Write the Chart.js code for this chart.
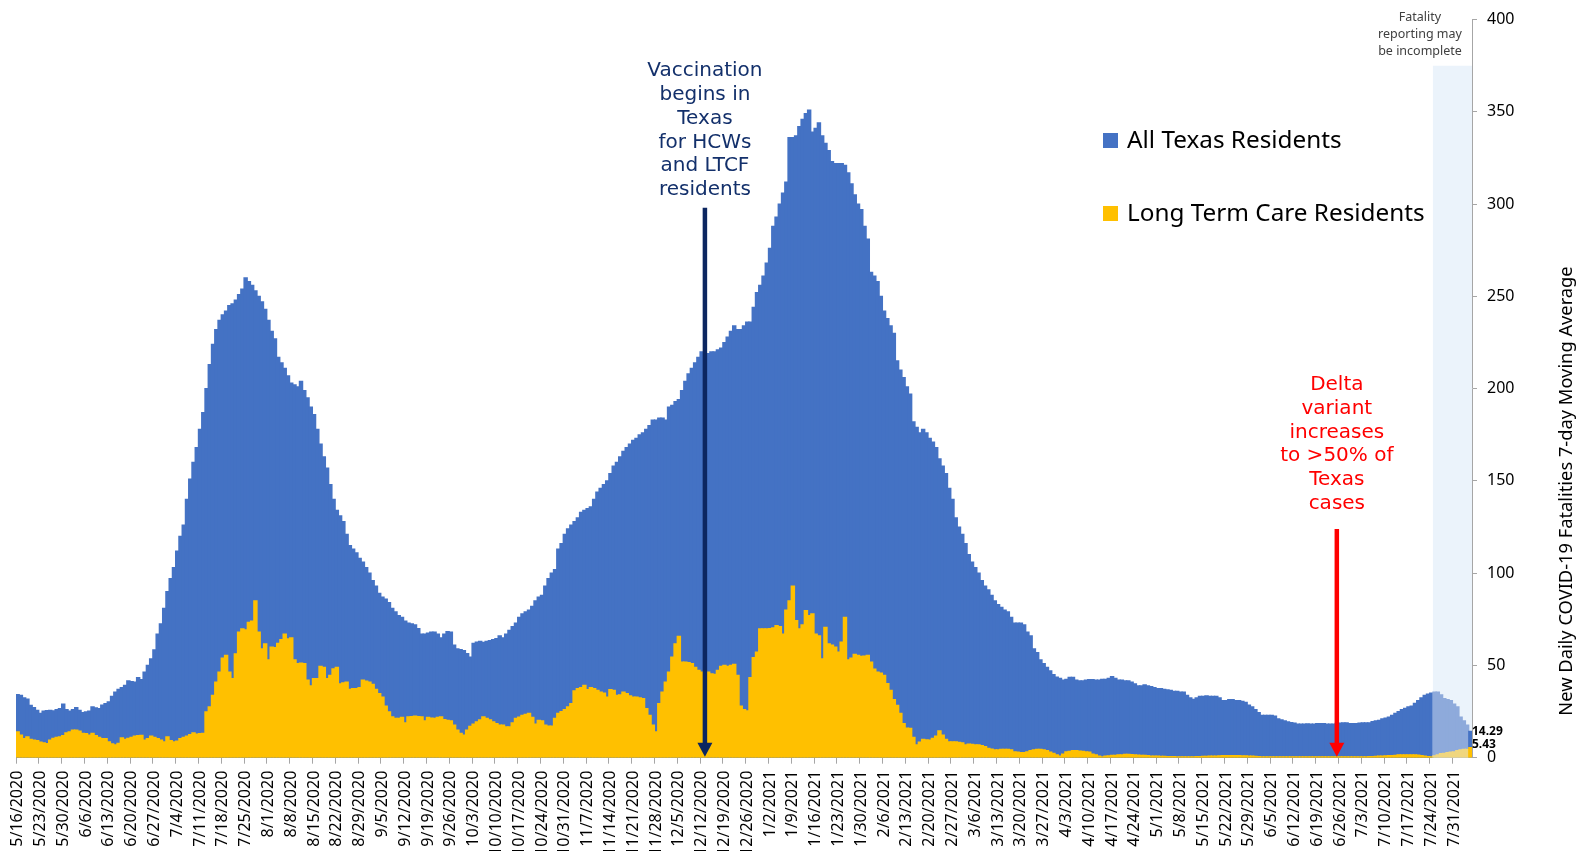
<!DOCTYPE html>
<html><head><meta charset="utf-8">
<script src="https://cdn.jsdelivr.net/npm/chart.js@4.4.1/dist/chart.umd.min.js"></script>
<style>html,body{margin:0;padding:0;background:#fff;overflow:hidden}canvas{display:block}</style>
</head><body><canvas id="c" width="1595" height="851"></canvas>
<script>
// Weekly tick labels (every 7th day)
const weeklyTicks = [
 "5/16/2020","5/23/2020","5/30/2020","6/6/2020","6/13/2020","6/20/2020","6/27/2020","7/4/2020","7/11/2020","7/18/2020","7/25/2020",
 "8/1/2020","8/8/2020","8/15/2020","8/22/2020","8/29/2020","9/5/2020","9/12/2020","9/19/2020","9/26/2020","10/3/2020","10/10/2020",
 "10/17/2020","10/24/2020","10/31/2020","11/7/2020","11/14/2020","11/21/2020","11/28/2020","12/5/2020","12/12/2020","12/19/2020","12/26/2020",
 "1/2/2021","1/9/2021","1/16/2021","1/23/2021","1/30/2021","2/6/2021","2/13/2021","2/20/2021","2/27/2021","3/6/2021","3/13/2021",
 "3/20/2021","3/27/2021","4/3/2021","4/10/2021","4/17/2021","4/24/2021","5/1/2021","5/8/2021","5/15/2021","5/22/2021","5/29/2021",
 "6/5/2021","6/12/2021","6/19/2021","6/26/2021","7/3/2021","7/10/2021","7/17/2021","7/24/2021","7/31/2021"
];

// All Texas Residents, 7-day moving average (daily, from 5/16/2020)
const allTexasPart1 = [
 34.2,33.8,32.4,31.7,28.4,27.2,25.7,24,25.2,25.5,
 25.7,25.4,26,26.6,29,26.1,25.2,26,27.2,25.7,
 24.5,24.8,25.2,27.5,27,26.6,28.5,29.3,30.2,33.3,
 35.6,37,38,39.2,41.6,41.3,41,43.4,42.3,46.4,
 50,53.6,58.5,67,72.5,81,90,97,103,112,
 120,126,140,151,160,168,178,187,200,213,
 224,232,237,240,242,245,246,248,251,254,
 260,258,256,253,250,247,243,237,231,227,
 217,214,211,207,203,202,201,204,199,195,
 190,186,178,170,163,157,148,140,134,131,
 128,121,115,113,111,108,106,103,100,96,
 93,89,87,86,84,81,79,77,76,74,
 73,72.5,72,70,67,67,67.5,68,68,67,
 65,67,68.4,68,61,59,58.6,58,56.4,54.5,
 62,62.6,63,62.5,63,63.5,64,64.6,66,65
];
const allTexasPart2 = [
 67,69,71,73,76,78,79,80,82,85,
 87,88,93,97,100,102,113,116,121,124,
 126,128,130,133,134,135,136,140,144,146,
 148,150,154,158,160,163,166,168,170,172,
 173,175,176,178,180,183,183,184,184,183,
 190,191,193,194,199,204,208,211,214,217,
 220,219,219,220,220,221,222,225,228,231,
 234,232,232,234,236,236,244,252,256,261,
 268,276,288,293,300,306,312,336,336,337,
 342,346,349,351,339,341,344,337,333,329,
 323,322,322,322,321,317,311,305,300,297,
 288,281,263,261,258,250,242,238,234,230,
 215,210,206,201,197,182,179,176,178,176,
 173,171,168,162,158,154,146,140,130,125,
 121,116,110,106,103,100,96,93,91,88
];
const allTexasPart3 = [
 85,83,81.5,80,79,76,73,73,73,72,
 68,66,59,57,53,51,49,47,45,43.7,
 43,42,42.5,43.5,43.5,42,41.6,41.6,42,42.3,
 42.3,42,42,42.4,42.4,43,44,43,42,42,
 41.6,41.6,41,40,39,39,39.5,39,38.5,38,
 37.5,37.5,37,36.8,36.5,36,36,35.6,35.6,33.8,
 32.5,31.6,32.5,33.3,33.3,33.5,33.3,33.3,33.3,32.5,
 31,31,31.5,31.5,31,31,30.5,30,28.5,27.5,
 26,24.5,23,23,23,23,22.5,21,20.5,20,
 19.4,19,18.8,18.2,18.2,18.2,18.4,18.2,18.2,18.5,
 18.5,18.5,18.2,18.2,18.2,18.6,18.8,18.9,18.9,18.5,
 18.5,18.5,18.7,18.9,18.9,18.9,19.5,20,20.3,21,
 21.5,22,23,24,25,26,26.8,27.5,28,29.5,
 31,32.5,33.8,34.5,35,35.6,35.6,34,32,31.5,
 31,29,27.5,22,20,17.6,14.29
];

// Long Term Care Residents, 7-day moving average (daily, from 5/16/2020)
const ltcPart1 = [
 14,12.2,10.4,11.3,9.9,9.5,9.2,8.5,8.1,7.7,
 9.5,10.5,11,11.3,12,13.5,14,15,15,14.4,
 13.2,13,12.2,13.2,12,11,10.4,10.4,8.6,7.5,
 6.9,7.8,10.8,9.9,10.5,11,11.7,12,12.1,9.5,
 10.4,11.7,11,10.4,9.5,8.6,11.3,9.2,8.6,9,
 10.4,11,11.7,12.5,13.5,12.8,13,13.2,24.8,27.5,
 33.8,41,46.4,54,55.4,46.4,42.8,56.3,68,69.8,
 69.3,73.4,74,85,68,59,61.7,53,60,59.6,
 62,64,67,64.4,65,53,51,51.3,51,42,
 39,42.8,42.8,49.5,49,42.8,44.6,48.2,49,40,
 40.5,41,37,37.4,37.4,38,42,41.5,41,39.8,
 37,34.7,32.9,28,24.8,22.1,21.3,21.3,21.8,18.9,
 22.1,22.3,22.5,22.3,22.1,20,21.8,21.5,21.3,21.8,
 22.1,20.7,20.3,20,17.6,15,13.2,12.2,15,17,
 18.2,19.4,20.5,22.1,21.3,20.5,19.4,18.5,17.6,17.6
];
const ltcPart2 = [
 16.7,16.7,18.9,21.3,22,23,23.5,24,21.8,18.2,
 20.3,20,17.6,17.1,17.1,21.3,24,25,26,27.5,
 29.3,36.2,37.4,38,39.2,36.9,38,37.4,36.5,35.6,
 35,32.9,36.9,36.5,33.8,34,35.6,34.7,33.5,32.9,
 32.9,32.5,32,26.6,23,17.6,14,29.3,35.6,41,
 46.4,54.5,61.7,65.7,51.8,51.8,51.5,51,49,47.3,
 46.4,46.4,46.4,45.5,45.2,47.3,49.5,50,49.5,50,
 50.6,44.6,27.9,26,25.4,43.4,54.2,57.2,69.8,69.8,
 69.8,70,70.4,71.6,71,67,80,85,93,74.3,
 69.8,72,79.7,77,78,67,66,53.6,70.7,61.7,
 61,60,57.2,62.6,76,53,54,56,55.5,54.9,
 55,55.4,51.8,48,46.4,45.9,44.6,40.1,36.5,31.5,
 28.4,24,18.5,16,15.9,11,6.9,8.5,9.9,9.7,
 9.5,10.5,11.7,14.6,12.2,10,8.6,8.6,8.6,8.3,
 8.1,6.9,7.4,7.2,7,6.9,6.5,6,5.1,4.6
];
const ltcPart3 = [
 4.2,4.3,4.5,4.5,4.5,4.3,3.2,3,2.8,2.7,
 3.2,3.8,4.2,4.5,4.5,4.2,3.8,3,2.4,1.5,
 0.9,2,3.2,3.5,3.8,3.8,3.6,3.4,3.2,3,
 2,1.5,0.8,0.5,0.8,1,1.3,1.3,1.5,1.6,
 1.8,1.8,1.7,1.5,1.4,1.3,1.3,1.1,0.9,0.8,
 0.8,0.7,0.7,0.6,0.6,0.6,0.5,0.5,0.5,0.5,
 0.5,0.5,0.6,0.6,0.7,0.7,0.8,0.8,0.9,1,
 1.1,1.2,1.2,1.1,1.2,1.1,1,1,0.9,0.8,
 0.7,0.6,0.5,0.5,0.5,0.5,0.5,0.5,0.5,0.5,
 0.5,0.5,0.4,0.4,0.4,0.4,0.5,0.5,0.5,0.5,
 0.5,0.5,0.5,0.4,0.4,0.4,0.4,0.5,0.5,0.5,
 0.5,0.5,0.5,0.5,0.5,0.6,0.6,0.7,0.8,0.9,
 1,1.1,1.2,1.3,1.5,1.5,1.6,1.6,1.5,1.5,
 1.4,1.2,0.8,0.6,0.5,1,1.6,2.2,2.4,2.7,
 3,3.2,3.8,4.2,4.5,4.5,5.43
];

const allTexas = allTexasPart1.concat(allTexasPart2, allTexasPart3);
const ltc = ltcPart1.concat(ltcPart2, ltcPart3);

// daily category labels
const categories = allTexas.map((_, i) => {
  const d = new Date(Date.UTC(2020, 4, 16 + i));
  return (d.getUTCMonth() + 1) + '/' + d.getUTCDate() + '/' + d.getUTCFullYear();
});

const incompleteStart = 435;           // first day of possibly-incomplete reporting
const lastIdx = allTexas.length - 1;
const blueColors = allTexas.map((_, i) => (i >= incompleteStart && i < lastIdx) ? '#8eaadb' : '#4472c4');
const yellowColors = ltc.map((_, i) => (i >= incompleteStart && i < lastIdx) ? '#f0d67e' : '#ffc000');

const decor = {
  id: 'decor',
  beforeDatasetsDraw(chart) {
    const xs = chart.scales.x, ys = chart.scales.y, c = chart.ctx;
    const w = xs.getPixelForValue(1) - xs.getPixelForValue(0);
    const x0 = xs.getPixelForValue(incompleteStart) - w / 2;
    const x1 = xs.getPixelForValue(lastIdx) + w / 2;
    const yt = ys.getPixelForValue(375), yb = ys.getPixelForValue(0);
    c.save(); c.fillStyle = '#ebf3fb'; c.fillRect(x0, yt, x1 - x0, yb - yt); c.restore();
  },
  afterDraw(chart) {
    const xs = chart.scales.x, ys = chart.scales.y, c = chart.ctx;
    const w = xs.getPixelForValue(1) - xs.getPixelForValue(0);
    const yb = ys.getPixelForValue(0);
    function arrow(idx, topVal, color) {
      const x = xs.getPixelForValue(idx);
      const yt = ys.getPixelForValue(topVal);
      c.save();
      c.strokeStyle = color; c.fillStyle = color; c.lineWidth = 4.5;
      c.beginPath(); c.moveTo(x, yt); c.lineTo(x, yb - 14); c.stroke();
      c.beginPath(); c.moveTo(x - 7.5, yb - 15); c.lineTo(x + 7.5, yb - 15); c.lineTo(x, yb - 1); c.closePath(); c.fill();
      c.restore();
    }
    function textBlock(idx, firstVal, lines, color) {
      const x = xs.getPixelForValue(idx);
      let y = ys.getPixelForValue(firstVal);
      c.save(); c.fillStyle = color; c.font = '20px "DejaVu Sans"'; c.textAlign = 'center'; c.textBaseline = 'middle';
      lines.forEach((l, k) => c.fillText(l, x, y + k * 23.7));
      c.restore();
    }
    // Vaccination annotation
    arrow(211, 298, '#0c2660');
    textBlock(211, 372, ['Vaccination', 'begins in', 'Texas', 'for HCWs', 'and LTCF', 'residents'], '#13306b');
    // Delta annotation
    arrow(405, 124, '#ff0000');
    textBlock(405, 202, ['Delta', 'variant', 'increases', 'to >50% of', 'Texas', 'cases'], '#ff0000');

    // Legend
    c.save();
    c.textBaseline = 'middle'; c.textAlign = 'left'; c.font = '24.3px "Noto Sans"';
    c.fillStyle = '#4472c4'; c.fillRect(1103, 133, 15, 15);
    c.fillStyle = '#000'; c.fillText('All Texas Residents', 1127, 141);
    c.fillStyle = '#ffc000'; c.fillRect(1103, 206, 15, 15);
    c.fillStyle = '#000'; c.fillText('Long Term Care Residents', 1127, 214);
    c.restore();

    // Incomplete reporting note
    c.save();
    c.font = '12.5px "Noto Sans"'; c.fillStyle = '#404040'; c.textAlign = 'center'; c.textBaseline = 'middle';
    ['Fatality', 'reporting may', 'be incomplete'].forEach((l, k) => c.fillText(l, 1420, 17.5 + k * 17));
    c.restore();

    // Last-value labels
    const xr = xs.getPixelForValue(lastIdx) + w / 2;
    c.save();
    c.font = 'bold 12px "Noto Sans"'; c.fillStyle = '#000'; c.textAlign = 'left'; c.textBaseline = 'middle';
    c.fillText(String(allTexas[lastIdx]), xr, ys.getPixelForValue(allTexas[lastIdx]));
    c.fillText(String(ltc[lastIdx]), xr, ys.getPixelForValue(ltc[lastIdx]) - 3);
    c.restore();

    // Right axis title (reads bottom to top)
    c.save();
    c.translate(1567, 491); c.rotate(-Math.PI / 2);
    c.font = '18.3px "Noto Sans"'; c.fillStyle = '#000'; c.textAlign = 'center'; c.textBaseline = 'middle';
    c.fillText('New Daily COVID-19 Fatalities 7-day Moving Average', 0, 0);
    c.restore();
  }
};

new Chart(document.getElementById('c').getContext('2d'), {
  type: 'bar',
  data: {
    labels: categories,
    datasets: [
      { label: 'All Texas Residents', data: allTexas, backgroundColor: blueColors, order: 2,
        grouped: false, barPercentage: 1, categoryPercentage: 1, borderWidth: 0, inflateAmount: 0.6 },
      { label: 'Long Term Care Residents', data: ltc, backgroundColor: yellowColors, order: 1,
        grouped: false, barPercentage: 1, categoryPercentage: 1, borderWidth: 0, inflateAmount: 0.6 }
    ]
  },
  options: {
    responsive: false, animation: false, devicePixelRatio: 1,
    layout: { padding: { left: 16, top: 16, right: 0, bottom: 0 } },
    plugins: { legend: { display: false }, tooltip: { enabled: false } },
    scales: {
      x: {
        offset: true,
        grid: { offset: true, drawOnChartArea: false, tickLength: 6,
                color: (ctx) => (ctx.index % 7 === 0 ? '#a6a6a6' : 'rgba(0,0,0,0)') },
        border: { color: '#a6a6a6' },
        ticks: { autoSkip: false, maxRotation: 90, minRotation: 90, padding: 7, color: '#000',
                 font: { family: 'Noto Sans', size: 16 },
                 callback: (v, i) => (i % 7 === 0 ? weeklyTicks[i / 7] : '') },
        afterFit: (s) => { s.height = 93.3; }
      },
      y: {
        position: 'right', min: 0, max: 400,
        ticks: { stepSize: 50, padding: 10, color: '#000', font: { family: 'Noto Sans', size: 16 } },
        grid: { drawOnChartArea: false, tickLength: 5, color: '#a6a6a6' },
        border: { color: '#a6a6a6' },
        afterFit: (s) => { s.width = 123; }
      }
    }
  },
  plugins: [decor]
});
</script>
</body></html>
